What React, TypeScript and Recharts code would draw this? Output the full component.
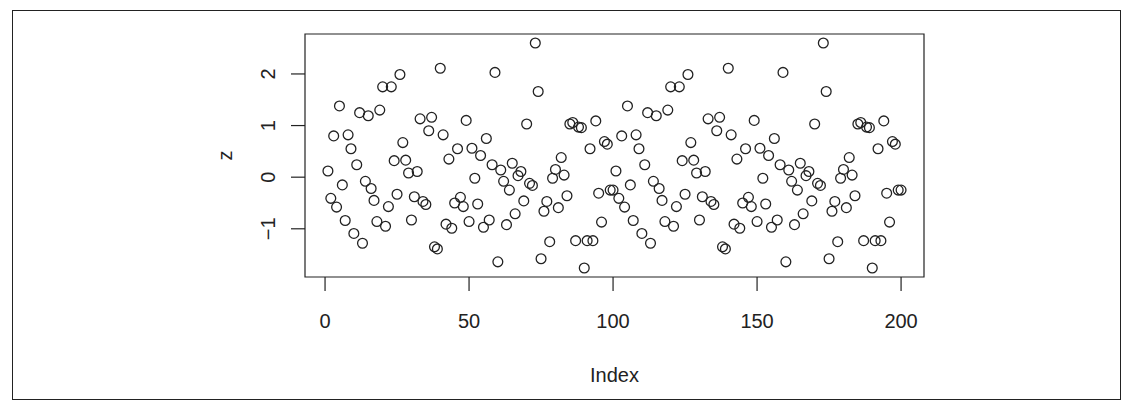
import React from 'react';
import { ScatterChart, Scatter, XAxis, YAxis, ReferenceArea } from 'recharts';

const zValues: number[] = [
  0.12, -0.41, 0.80, -0.58, 1.38, -0.15, -0.84, 0.82, 0.55, -1.09,
  0.24, 1.25, -1.28, -0.08, 1.19, -0.22, -0.45, -0.86, 1.30, 1.75,
  -0.95, -0.57, 1.75, 0.32, -0.33, 1.99, 0.67, 0.33, 0.08, -0.83,
  -0.38, 0.11, 1.13, -0.47, -0.53, 0.90, 1.16, -1.35, -1.39, 2.11,
  0.82, -0.91, 0.35, -0.99, -0.50, 0.55, -0.39, -0.57, 1.10, -0.86,
  0.56, -0.02, -0.52, 0.42, -0.97, 0.75, -0.83, 0.24, 2.03, -1.64,
  0.14, -0.08, -0.92, -0.25, 0.27, -0.71, 0.03, 0.11, -0.46, 1.03,
  -0.12, -0.16, 2.60, 1.66, -1.58, -0.66, -0.47, -1.25, -0.02, 0.15,
  -0.59, 0.38, 0.04, -0.36, 1.03, 1.06, -1.23, 0.97, 0.96, -1.76,
  -1.23, 0.55, -1.23, 1.09, -0.31, -0.87, 0.69, 0.64, -0.25, -0.25,
  0.12, -0.41, 0.80, -0.58, 1.38, -0.15, -0.84, 0.82, 0.55, -1.09,
  0.24, 1.25, -1.28, -0.08, 1.19, -0.22, -0.45, -0.86, 1.30, 1.75,
  -0.95, -0.57, 1.75, 0.32, -0.33, 1.99, 0.67, 0.33, 0.08, -0.83,
  -0.38, 0.11, 1.13, -0.47, -0.53, 0.90, 1.16, -1.35, -1.39, 2.11,
  0.82, -0.91, 0.35, -0.99, -0.50, 0.55, -0.39, -0.57, 1.10, -0.86,
  0.56, -0.02, -0.52, 0.42, -0.97, 0.75, -0.83, 0.24, 2.03, -1.64,
  0.14, -0.08, -0.92, -0.25, 0.27, -0.71, 0.03, 0.11, -0.46, 1.03,
  -0.12, -0.16, 2.60, 1.66, -1.58, -0.66, -0.47, -1.25, -0.02, 0.15,
  -0.59, 0.38, 0.04, -0.36, 1.03, 1.06, -1.23, 0.97, 0.96, -1.76,
  -1.23, 0.55, -1.23, 1.09, -0.31, -0.87, 0.69, 0.64, -0.25, -0.25,
];

const xTicks = [0, 50, 100, 150, 200];
const yTicks = [-1, 0, 1, 2];
const yTickLabels = ['\u22121', '0', '1', '2'];
const xLabel = 'Index';
const yLabel = 'z';

const xDomain: [number, number] = [-6.96, 207.96];
const yDomain: [number, number] = [-1.934, 2.774];

const data = zValues.map((z, i) => ({ index: i + 1, z }));

const FONT = '"Liberation Sans", Arial, Helvetica, sans-serif';
const INK = '#222';

const XTick = (props: any) => {
  const { x, y, payload } = props;
  return (
    <text x={x} y={y + 37} textAnchor="middle" fontSize={20} fill={INK} fontFamily={FONT}>
      {payload.value}
    </text>
  );
};

const YTick = (props: any) => {
  const { y, payload } = props;
  const idx = yTicks.indexOf(payload.value);
  const label = idx >= 0 ? yTickLabels[idx] : String(payload.value);
  const bx = 275;
  return (
    <text
      x={bx}
      y={y}
      textAnchor="middle"
      fontSize={20}
      fill={INK}
      fontFamily={FONT}
      transform={`rotate(-90, ${bx}, ${y})`}
    >
      {label}
    </text>
  );
};

const Dot = (props: any) => {
  const { cx, cy } = props;
  if (cx == null || cy == null) return null;
  return <circle cx={cx} cy={cy} r={4.9} fill="none" stroke={INK} strokeWidth={1.3} />;
};

export default function App() {
  return (
    <div style={{ position: 'absolute', left: 0, top: 0, width: 1127, height: 408, background: '#fff' }}>
      <div
        style={{
          position: 'absolute',
          left: 12,
          top: 10,
          width: 1109,
          height: 390,
          boxSizing: 'border-box',
          border: '1px solid #222',
        }}
      />
      <div style={{ position: 'absolute', left: 0, top: 0 }}>
        <ScatterChart
          width={1127}
          height={408}
          margin={{ top: 34, right: 203, bottom: 71, left: 245 }}
        >
          <XAxis
            type="number"
            dataKey="index"
            domain={xDomain}
            ticks={xTicks}
            allowDataOverflow
            axisLine={false}
            tickSize={14}
            tickMargin={0}
            tickLine={{ stroke: INK, strokeWidth: 1.2 }}
            tick={<XTick />}
            height={60}
            interval={0}
            label={() => (
              <text x={614.5} y={382} textAnchor="middle" fontSize={20} fill={INK} fontFamily={FONT}>
                {xLabel}
              </text>
            )}
          />
          <YAxis
            type="number"
            dataKey="z"
            domain={yDomain}
            ticks={yTicks}
            allowDataOverflow
            axisLine={false}
            tickSize={14}
            tickMargin={0}
            tickLine={{ stroke: INK, strokeWidth: 1.2 }}
            tick={<YTick />}
            width={60}
            interval={0}
            label={() => (
              <text
                x={232}
                y={155.5}
                textAnchor="middle"
                fontSize={20}
                fill={INK}
                fontFamily={FONT}
                transform="rotate(-90, 232, 155.5)"
              >
                {yLabel}
              </text>
            )}
          />
          <ReferenceArea
            x1={xDomain[0]}
            x2={xDomain[1]}
            y1={yDomain[0]}
            y2={yDomain[1]}
            fill="none"
            fillOpacity={0}
            stroke={INK}
            strokeWidth={1.2}
            ifOverflow="visible"
          />
          <Scatter data={data} shape={<Dot />} isAnimationActive={false} />
        </ScatterChart>
      </div>
    </div>
  );
}
